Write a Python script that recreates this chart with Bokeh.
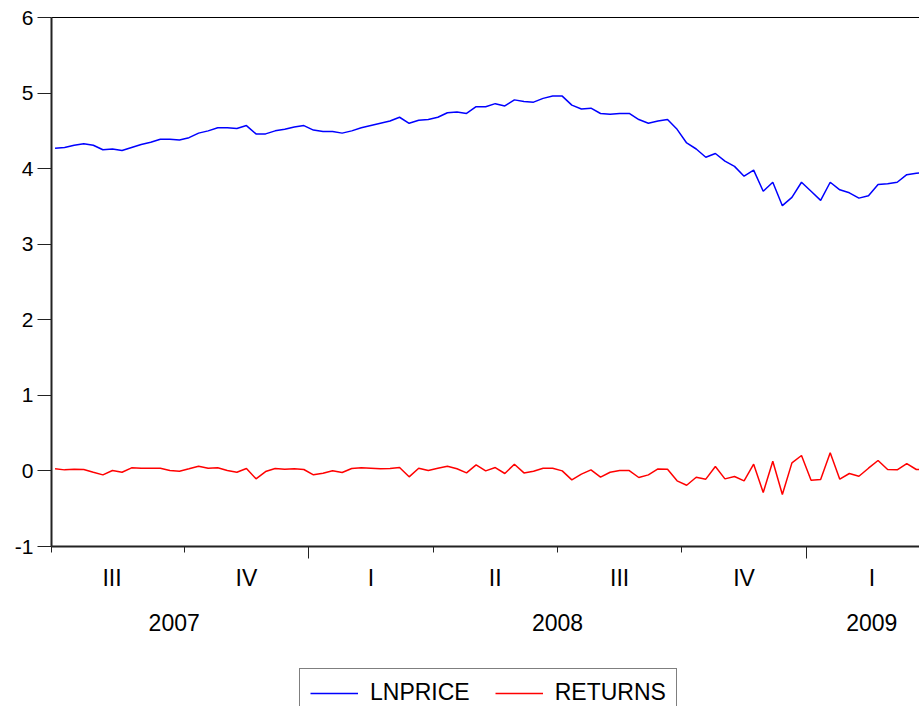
from bokeh.plotting import figure
from bokeh.models import FixedTicker, LinearAxis, Range1d, Legend, LegendItem
from bokeh.layouts import column
from bokeh.embed import file_html
from bokeh.resources import INLINE

# Weekly observations (index 0 = first week of the sample, mid-2007)
lnprice = [4.27, 4.28, 4.31, 4.33, 4.31, 4.25, 4.26, 4.24, 4.28, 4.32,
           4.35, 4.39, 4.39, 4.38, 4.41, 4.47, 4.50, 4.54, 4.54, 4.53,
           4.57, 4.46, 4.46, 4.50, 4.52, 4.55, 4.57, 4.51, 4.49, 4.49,
           4.47, 4.50, 4.54, 4.57, 4.60, 4.63, 4.68, 4.60, 4.64, 4.65,
           4.68, 4.74, 4.75, 4.73, 4.82, 4.82, 4.86, 4.83, 4.91, 4.89,
           4.88, 4.93, 4.96, 4.96, 4.84, 4.79, 4.80, 4.73, 4.72, 4.73,
           4.73, 4.65, 4.60, 4.63, 4.65, 4.52, 4.34, 4.26, 4.15, 4.20,
           4.10, 4.03, 3.90, 3.98, 3.70, 3.82, 3.51, 3.62, 3.82, 3.70,
           3.58, 3.82, 3.72, 3.68, 3.61, 3.64, 3.79, 3.80, 3.82, 3.92,
           3.94, 3.95]

returns = [0.028, 0.014, 0.023, 0.019, -0.017, -0.052, 0.005, -0.017, 0.041, 0.036,
           0.036, 0.036, 0.005, -0.004, 0.028, 0.062, 0.036, 0.041, 0.005, -0.017,
           0.032, -0.105, -0.008, 0.032, 0.023, 0.028, 0.019, -0.052, -0.030, 0.001,
           -0.021, 0.032, 0.041, 0.036, 0.028, 0.032, 0.045, -0.078, 0.036, 0.005,
           0.036, 0.062, 0.028, -0.026, 0.080, 0.001, 0.045, -0.034, 0.089, -0.026,
           -0.004, 0.036, 0.036, 0.001, -0.118, -0.043, 0.014, -0.083, -0.017, 0.005,
           0.005, -0.087, -0.052, 0.027, 0.023, -0.131, -0.189, -0.083, -0.109, 0.058,
           -0.105, -0.074, -0.131, 0.089, -0.286, 0.129, -0.312, 0.107, 0.204, -0.123,
           -0.114, 0.239, -0.109, -0.034, -0.070, 0.036, 0.138, 0.019, 0.014, 0.098,
           0.019, 0.019]

weeks = list(range(len(lnprice)))

# Quarter boundaries (in week index units) and labels
axis_start = -0.37
view_end = 90.33
label_start = -1.6
label_end = 92.2
quarter_bounds = [13.5, 26.5, 39.5, 52.5, 65.5, 78.5]
year_bounds = [26.5, 78.5]
quarter_labels = ["III", "IV", "I", "II", "III", "IV", "I"]
year_labels = ["2007", "2008", "2009"]
y_ticks = [-1, 0, 1, 2, 3, 4, 5, 6]

qb = [label_start] + quarter_bounds + [label_end]
quarter_centers = [(qb[i] + qb[i + 1]) / 2 for i in range(len(quarter_labels))]
yb = [label_start] + year_bounds + [label_end]
year_centers = [(yb[i] + yb[i + 1]) / 2 for i in range(len(year_labels))]

FONT = "Liberation Sans"
AXC = "#222222"

p = figure(width=919, height=668, x_range=Range1d(axis_start, view_end),
           y_range=Range1d(-1, 6), output_backend="svg", toolbar_location=None,
           min_border_left=51, min_border_right=0, min_border_top=17,
           min_border_bottom=122)
p.xgrid.visible = False
p.ygrid.visible = False
p.outline_line_color = None
p.background_fill_color = "white"
p.border_fill_color = "white"

xa = p.below[0]
ya = p.left[0]

# y axis
ya.ticker = FixedTicker(ticks=y_ticks)
ya.major_label_overrides = {t: str(t) for t in y_ticks}
ya.major_label_text_font = FONT
ya.major_label_text_font_size = "21px"
ya.major_label_text_color = "black"
ya.major_tick_out = 14
ya.major_tick_in = 0
ya.minor_tick_out = 0
ya.minor_tick_in = 0
ya.axis_line_width = 2
ya.axis_line_color = AXC
ya.major_tick_line_color = AXC
ya.major_label_standoff = 4

# x axis 1: tick marks only (long at years, short at quarters)
minor = [axis_start] + [q for q in quarter_bounds if q not in year_bounds]
xa.ticker = FixedTicker(ticks=year_bounds, minor_ticks=minor)
xa.major_label_overrides = {yv: "" for yv in year_bounds}
xa.major_label_text_font_size = "1px"
xa.major_label_standoff = 0
xa.major_tick_out = 12
xa.major_tick_in = 0
xa.minor_tick_out = 6
xa.minor_tick_in = 0
xa.axis_line_width = 2
xa.axis_line_color = AXC
xa.major_tick_line_color = AXC
xa.minor_tick_line_color = AXC

# top frame line
ta = LinearAxis(ticker=FixedTicker(ticks=[], minor_ticks=[]),
                major_label_text_font_size="1px",
                major_tick_out=0, major_tick_in=0, minor_tick_out=0, minor_tick_in=0,
                major_tick_line_color=None, minor_tick_line_color=None,
                axis_line_color="black", axis_line_width=1, major_label_standoff=0)
p.add_layout(ta, "above")

# x axis 2: quarter labels
qa = LinearAxis(ticker=FixedTicker(ticks=quarter_centers),
                major_label_overrides={c: l for c, l in zip(quarter_centers, quarter_labels)})
qa.axis_line_color = None
qa.major_tick_line_color = None
qa.minor_tick_line_color = None
qa.major_tick_out = 0
qa.major_label_standoff = 6
qa.major_label_text_font = FONT
qa.major_label_text_font_size = "23px"
qa.major_label_text_color = "black"
p.add_layout(qa, "below")

# x axis 3: year labels
ea = LinearAxis(ticker=FixedTicker(ticks=year_centers),
                major_label_overrides={c: l for c, l in zip(year_centers, year_labels)})
ea.axis_line_color = None
ea.major_tick_line_color = None
ea.minor_tick_line_color = None
ea.major_tick_out = 0
ea.major_label_standoff = 20
ea.major_label_text_font = FONT
ea.major_label_text_font_size = "23px"
ea.major_label_text_color = "black"
p.add_layout(ea, "below")

p.line(weeks, lnprice, line_color="#0000FF", line_width=1.5)
p.line(weeks, returns, line_color="#FF0000", line_width=1.5)

# legend strip below the chart (same frame width as the chart)
lp = figure(width=919, height=38, x_range=Range1d(axis_start, view_end),
            y_range=Range1d(100, 101), output_backend="svg", toolbar_location=None,
            x_axis_location=None, y_axis_location=None,
            min_border_left=51, min_border_right=0, min_border_top=0,
            min_border_bottom=0)
lp.xgrid.visible = False
lp.ygrid.visible = False
lp.outline_line_color = None
lp.background_fill_color = "white"
lp.border_fill_color = "white"
l1 = lp.line(weeks, lnprice, line_color="#0000FF", line_width=1.5)
l2 = lp.line(weeks, returns, line_color="#FF0000", line_width=1.5)

legend = Legend(items=[LegendItem(label="LNPRICE", renderers=[l1]),
                       LegendItem(label="RETURNS", renderers=[l2])],
                location=(248, -11), orientation="horizontal")
legend.label_text_font = FONT
legend.label_text_font_size = "23px"
legend.label_text_color = "black"
legend.glyph_width = 48
legend.glyph_height = 20
legend.label_standoff = 12
legend.spacing = 25
legend.padding = 10
legend.margin = 0
legend.border_line_color = "black"
legend.border_line_width = 1
legend.background_fill_color = "white"
legend.background_fill_alpha = 1
lp.add_layout(legend, "center")

layout = column(p, lp, spacing=0)
open("out.html", "w").write(file_html(layout, INLINE))
